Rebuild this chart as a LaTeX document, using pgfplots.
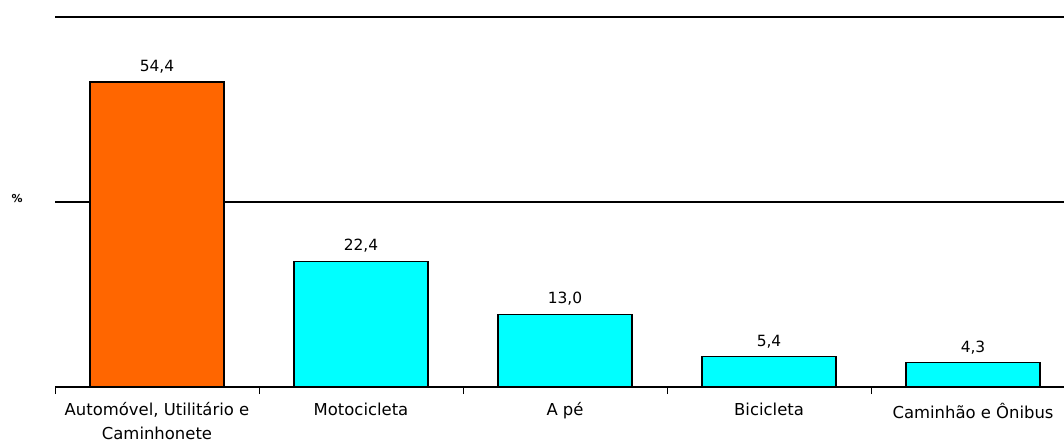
\documentclass[border=0pt]{standalone}
\usepackage{pgfplots}
\pgfplotsset{compat=1.18}
\usepackage{fontspec}
\setmainfont{DejaVu Sans}
\definecolor{barorange}{HTML}{FF6600}
\definecolor{barcyan}{HTML}{00FFFF}
\begin{document}
\begin{tikzpicture}
\path[use as bounding box] (0,0) rectangle (1064bp,446bp);
\begin{axis}[
  at={(55bp,59bp)}, anchor=south west,
  scale only axis,
  width=1009bp, height=370bp,
  xmin=-0.5, xmax=4.446,
  ymin=0, ymax=66,
  axis x line*=bottom, axis y line*=left,
  y axis line style={draw=none},
  x axis line style={line width=1.2bp, shorten >=-5bp},
  ytick={0,33,66}, yticklabels={}, ytick style={draw=none},
  ymajorgrids, grid style={black, line width=1.3bp},
  xtick={0,1,2,3,4},
  xticklabels={{Automóvel, Utilitário e\\Caminhonete},Motocicleta,A pé,Bicicleta,Caminhão e Ônibus},
  major x tick style={draw=none},
  minor xtick={-0.5,0.5,1.5,2.5,3.5},
  minor x tick style={black, line width=1bp},
  tick align=outside,
  minor tick length=7bp,
  xticklabel style={font=\fontsize{16.5}{24}\selectfont, align=center, yshift=-8bp},
  ybar, bar width=134bp, bar shift=0pt,
  nodes near coords,
  nodes near coords style={font=\fontsize{15.5}{18}\selectfont, yshift=5bp,
    /pgf/number format/.cd, fixed, fixed zerofill, precision=1, use comma, assume math mode=true},
  clip=false,
]
\addplot[fill=barorange, draw=black, line width=1.2bp] coordinates {(0,54.4)};
\addplot[fill=barcyan, draw=black, line width=1.2bp] coordinates {(1,22.4) (2,13.0) (3,5.4) (4,4.3)};
\end{axis}
\node[font=\bfseries\fontsize{11}{12}\selectfont] at (17bp,247bp) {\%};
\end{tikzpicture}
\end{document}
